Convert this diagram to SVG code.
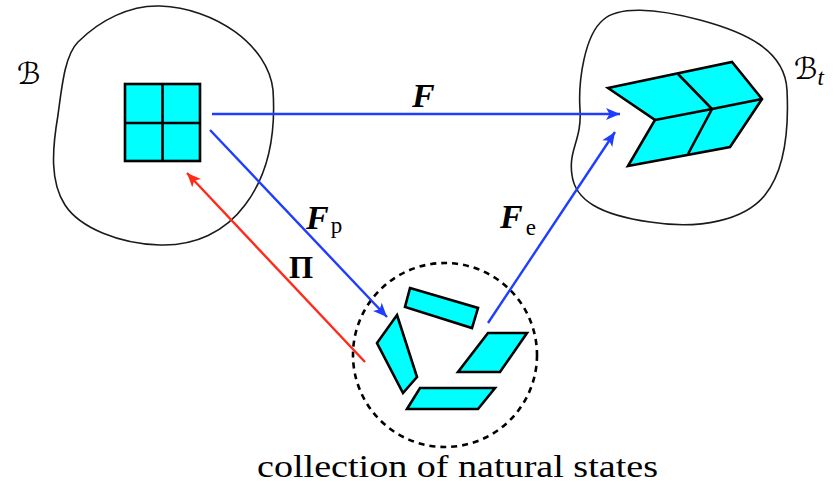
<svg xmlns="http://www.w3.org/2000/svg" width="834" height="483" viewBox="0 0 834 483">
<style>
.blob{fill:none;stroke:#1a1a1a;stroke-width:1.6}
.cell{fill:#00ffff;stroke:#000;stroke-width:2.6;stroke-linejoin:miter}
.ln{fill:none;stroke:#000;stroke-width:2.6}
.blue{stroke:#1f3dff;stroke-width:2.4;fill:none}
.red{stroke:#ff2a1a;stroke-width:2.4;fill:none}
.math{font-family:"Liberation Serif","DejaVu Serif",serif;font-weight:bold;font-style:italic;font-size:34px;fill:#000}
.sub{font-family:"Liberation Serif","DejaVu Serif",serif;font-size:23px;fill:#000}
.cal{font-family:"DejaVu Sans","Noto Sans",sans-serif;font-size:30px;fill:#000}
.lbl{font-family:"Liberation Serif","DejaVu Serif",serif;font-size:31px;fill:#000}
</style>
<defs>
<marker id="ab" markerUnits="userSpaceOnUse" markerWidth="16" markerHeight="14" refX="14" refY="6" orient="auto" viewBox="0 0 16 12">
<path d="M0,0 L14,6 L0,12 L3.5,6 Z" fill="#1f3dff"/>
</marker>
<marker id="ar" markerUnits="userSpaceOnUse" markerWidth="16" markerHeight="14" refX="14" refY="6" orient="auto" viewBox="0 0 16 12">
<path d="M0,0 L14,6 L0,12 L3.5,6 Z" fill="#ff2a1a"/>
</marker>
</defs>
<g id="body-B">
<path class="blob" d="M160,6 C215,8 268,45 273,90 C276,135 268,175 245,205 C225,232 195,246 160,245 C120,244 80,228 65,205 C50,182 52,150 58,115 C62,85 65,55 78,42 C100,20 130,5 160,6 Z"/>
<rect class="cell" x="125" y="84" width="75" height="77"/>
<line class="ln" x1="162.5" y1="84" x2="162.5" y2="161"/>
<line class="ln" x1="125" y1="123" x2="200" y2="123"/>
<text class="cal" x="17" y="84">ℬ</text>
</g>
<g id="body-Bt">
<path class="blob" d="M603,20 C618,6 655,8 700,20 C745,32 785,50 787,90 C789,130 785,170 765,195 C745,220 700,230 650,222 C600,215 575,200 572,175 C568,150 582,140 580,110 C578,80 585,35 603,20 Z"/>
<polygon class="cell" points="608,88 732,62 762,99 730,147 628,166 655,120"/>
<polyline class="ln" points="678,74 712,109 688,154"/>
<polyline class="ln" points="655,120 712,109 762,99"/>
<text class="cal" x="794" y="79">ℬ<tspan class="sub" font-style="italic" dx="0" dy="6">t</tspan></text>
</g>
<g id="natural-states">
<circle cx="445" cy="355" r="92" fill="none" stroke="#000" stroke-width="2.6" stroke-dasharray="6,5"/>
<polygon class="cell" points="410,288 478,308 472,328 405,307"/>
<polygon class="cell" points="397,315 417,377 403,393 377,343"/>
<polygon class="cell" points="488,333 527,333 500,372 458,372"/>
<polygon class="cell" points="420,388 495,388 478,409 407,409"/>
<text class="lbl" x="257" y="477" textLength="401" lengthAdjust="spacingAndGlyphs">collection of natural states</text>
</g>
<g id="connectors">
<line class="blue" x1="212" y1="114" x2="620" y2="114" marker-end="url(#ab)"/>
<line class="blue" x1="210" y1="130" x2="387" y2="317" marker-end="url(#ab)"/>
<line class="blue" x1="488" y1="323" x2="615" y2="132" marker-end="url(#ab)"/>
<line class="red" x1="365" y1="362" x2="187" y2="173" marker-end="url(#ar)"/>
<text class="math" x="412" y="107">F</text>
<text class="math" x="306" y="229">F<tspan class="sub" font-weight="normal" font-style="normal" dx="2" dy="4">p</tspan></text>
<text class="math" x="500" y="228">F<tspan class="sub" font-weight="normal" font-style="normal" dx="3" dy="7">e</tspan></text>
<text class="lbl" font-weight="bold" font-size="32" x="289" y="278">Π</text>
</g>
</svg>
